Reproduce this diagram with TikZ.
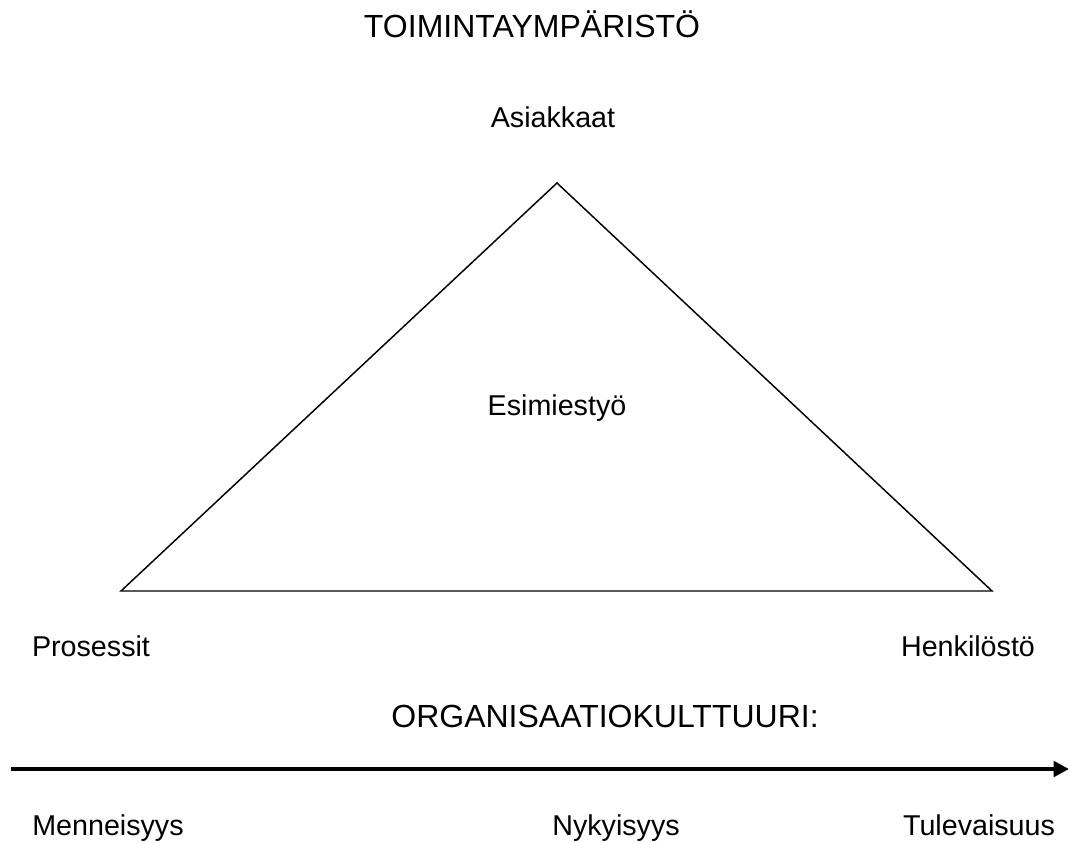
\documentclass[tikz,border=0pt]{standalone}
\usepackage{fontspec}
\setmainfont{Liberation Sans}
\usetikzlibrary{arrows.meta}
\begin{document}
\begin{tikzpicture}[x=0.75pt,y=-0.75pt,
  big/.style={inner sep=0pt,anchor=base,font=\fontsize{24pt}{28pt}\selectfont},
  lbl/.style={inner sep=0pt,anchor=base,font=\fontsize{21.5pt}{26pt}\selectfont},
  tri/.style={line width=1.1pt,line join=miter},
  timeline/.style={line width=3.4pt,-{Triangle[length=11.5pt,width=11.5pt]}}]
\useasboundingbox (0,0) rectangle (1070,842);
\node[big] (title) at (532,38) {TOIMINTAYMPÄRISTÖ};
\node[lbl] (asiakkaat) at (553,127) {Asiakkaat};
\coordinate (top) at (557,183);
\coordinate (left) at (121,591);
\coordinate (right) at (992,591);
\draw[tri] (top) -- (right) -- (left) -- cycle;
\node[lbl] (esimies) at (557,415) {Esimiestyö};
\node[lbl] (prosessit) at (91,656) {Prosessit};
\node[lbl] (henkilosto) at (968,656) {Henkilöstö};
\node[big] (org) at (605,727) {ORGANISAATIOKULTTUURI:};
\coordinate (tstart) at (11,769);
\coordinate (tend) at (1069,769);
\draw[timeline] (tstart) -- (tend);
\node[lbl] (menneisyys) at (108,835) {Menneisyys};
\node[lbl] (nykyisyys) at (616,835) {Nykyisyys};
\node[lbl] (tulevaisuus) at (979,835) {Tulevaisuus};
\end{tikzpicture}
\end{document}
